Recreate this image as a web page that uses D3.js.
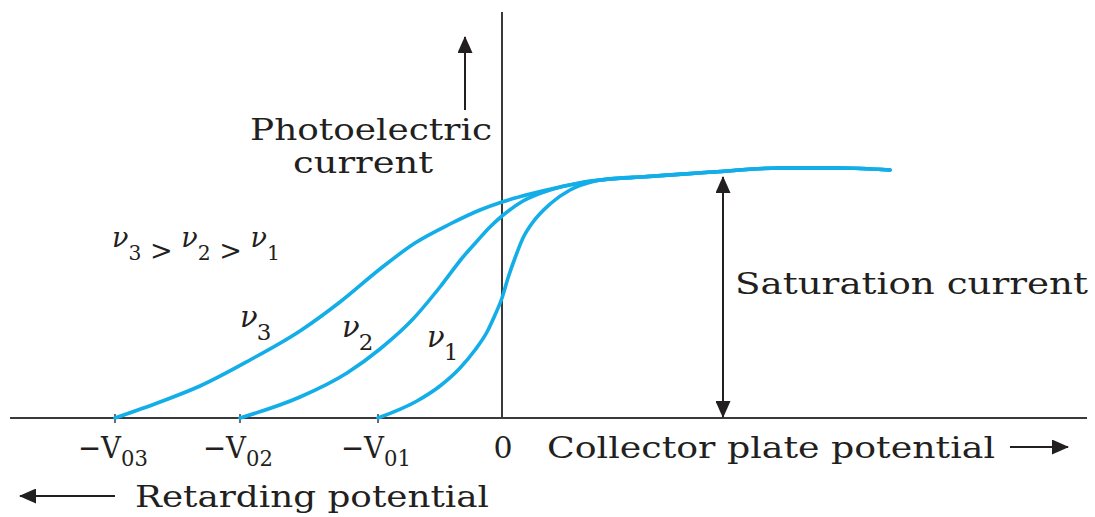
<!DOCTYPE html>
<html>
<head>
<meta charset="utf-8">
<script src="https://cdn.jsdelivr.net/npm/d3@7"></script>
<style>
  body { margin: 0; background: #fff; }
  text { font-family: "DejaVu Serif", serif; fill: #231f20; }
</style>
</head>
<body>
<div id="chart"></div>
<script>
// stopping potentials (arbitrary units) and their subscripts
const stopPotential = [-3.87, -2.62, -1.24];
const stopLabels = ["03", "02", "01"];

// nu3 curve (potential, current), current normalised to saturation = 1
const nu3V = [-3.87, -3.42, -3.02, -2.52, -2.02, -1.62, -1.22, -0.87, -0.52, -0.22, 0, 0.28, 0.58, 0.88];
const nu3I = [0, 0.064, 0.128, 0.232, 0.348, 0.464, 0.596, 0.70, 0.776, 0.832, 0.864, 0.896, 0.924, 0.948];

// nu2 curve
const nu2V = [-2.62, -2.02, -1.55, -1.22, -0.89, -0.62, -0.39, -0.24, -0.12, 0, 0.21, 0.48, 0.78, 1.08];
const nu2I = [0, 0.084, 0.18, 0.276, 0.396, 0.524, 0.644, 0.712, 0.764, 0.808, 0.868, 0.912, 0.94, 0.956];

// nu1 curve
const nu1V = [-1.24, -0.85, -0.62, -0.42, -0.27, -0.15, -0.07, 0, 0.06, 0.13, 0.21, 0.31, 0.48, 0.68, 0.93, 1.18];
const nu1I = [0, 0.068, 0.128, 0.2, 0.272, 0.344, 0.412, 0.48, 0.56, 0.64, 0.72, 0.784, 0.856, 0.912, 0.948, 0.96];

// common saturation part shared by all three curves
const satV = [1.38, 2.11, 2.78, 3.38, 3.88];
const satI = [0.964, 0.984, 1.0, 1.0, 0.992];

const curveNames = ["3", "2", "1"];

var width = 1095, height = 517;

var svg = d3.select("#chart")
  .append("svg")
    .attr("width", width)
    .attr("height", height);

// scales: 0 V sits on the vertical axis
const x = d3.scaleLinear().domain([-4.92, 5.85]).range([10, 1087]);
const y = d3.scaleLinear().domain([0, 1.624]).range([418, 12]);

var ink = "#231f20", axisCol = "#3a3a3a", blue = "#13aee8";

// arrow head marker
svg.append("defs").append("marker")
    .attr("id", "head")
    .attr("viewBox", "0 0 17 15")
    .attr("refX", 16)
    .attr("refY", 7.5)
    .attr("markerWidth", 17)
    .attr("markerHeight", 15)
    .attr("markerUnits", "userSpaceOnUse")
    .attr("orient", "auto-start-reverse")
  .append("path")
    .attr("d", "M0,0 L17,7.5 L0,15 Z")
    .attr("fill", ink);

// axes
svg.append("line")
    .attr("x1", x.range()[0]).attr("x2", x.range()[1])
    .attr("y1", y(0)).attr("y2", y(0))
    .style("stroke", axisCol).style("stroke-width", 2);
svg.append("line")
    .attr("x1", x(0)).attr("x2", x(0))
    .attr("y1", y(0)).attr("y2", y.range()[1])
    .style("stroke", axisCol).style("stroke-width", 2);

// small ticks at the stopping potentials
svg.selectAll(".stop-tick")
  .data(stopPotential)
  .enter().append("line")
    .attr("class", "stop-tick")
    .attr("x1", d => x(d)).attr("x2", d => x(d))
    .attr("y1", y(0) - 4).attr("y2", y(0) + 5)
    .style("stroke", axisCol).style("stroke-width", 1.5);

// tick labels -V0n
svg.selectAll(".stop-label")
  .data(stopPotential)
  .enter().append("text")
    .attr("class", "stop-label")
    .attr("x", d => x(d) - 2)
    .attr("y", 458)
    .attr("text-anchor", "middle")
    .attr("textLength", 70)
    .attr("lengthAdjust", "spacingAndGlyphs")
    .style("font-size", "30px")
    .each(function (d, i) {
      const t = d3.select(this);
      t.append("tspan").text("\u2212V");
      t.append("tspan").attr("dy", 8).style("font-size", "23px").text(stopLabels[i]);
    });

svg.append("text")
    .attr("x", x(0) + 1).attr("y", 458)
    .attr("text-anchor", "middle")
    .style("font-size", "30px")
    .text("0");

// the photocurrent curves
const line = d3.line()
    .x(d => x(d[0]))
    .y(d => y(d[1]))
    .curve(d3.curveMonotoneX);

function pairs(vs, is) {
  return vs.map((v, i) => [v, is[i]]).concat(satV.map((v, i) => [v, satI[i]]));
}
const curves = [pairs(nu3V, nu3I), pairs(nu2V, nu2I), pairs(nu1V, nu1I)];

svg.selectAll(".curve")
  .data(curves)
  .enter().append("path")
    .attr("class", "curve")
    .attr("d", line)
    .attr("fill", "none")
    .style("stroke", blue)
    .style("stroke-width", 3.6)
    .style("stroke-linecap", "round");

// plain text labels
function label(str, px, py, size, len) {
  svg.append("text")
      .attr("x", px).attr("y", py)
      .attr("textLength", len)
      .attr("lengthAdjust", "spacingAndGlyphs")
      .style("font-size", size + "px")
      .text(str);
}
label("Photoelectric", 250, 140, 30, 242);
label("current", 293, 173, 30, 140);
label("Saturation current", 735, 294, 30, 353);
label("Collector plate potential", 547, 458, 30, 448);
label("Retarding potential", 135, 507, 30, 354);

// nu labels on the curves
function nuLabel(sub, px, py) {
  const t = svg.append("text").attr("x", px).attr("y", py).style("font-size", "29px");
  t.append("tspan").style("font-style", "italic").text("\u03bd");
  t.append("tspan").attr("dy", 13).attr("dx", -1).style("font-size", "23px").text(sub);
}
nuLabel(curveNames[0], 240, 327);
nuLabel(curveNames[1], 342, 337);
nuLabel(curveNames[2], 427, 347);

// nu3 > nu2 > nu1
var order = svg.append("text")
    .attr("x", 112).attr("y", 247)
    .attr("textLength", 168)
    .attr("lengthAdjust", "spacingAndGlyphs")
    .style("font-size", "28px");
curveNames.forEach((n, i) => {
  order.append("tspan").attr("dy", i === 0 ? 0 : -13).style("font-style", "italic").text("\u03bd");
  order.append("tspan").attr("dy", 13).style("font-size", "21px").text(n);
  if (i < 2) order.append("tspan").attr("dy", 0).text(" > ");
});

// arrows
function arrow(x1, y1, x2, y2, both) {
  const a = svg.append("line")
      .attr("x1", x1).attr("y1", y1).attr("x2", x2).attr("y2", y2)
      .style("stroke", ink).style("stroke-width", 2)
      .attr("marker-end", "url(#head)");
  if (both) a.attr("marker-start", "url(#head)");
}
arrow(465, 110, 465, 37, false);
arrow(x(2.21), y(0.964), x(2.21), y(0) - 1, true);
arrow(1010, 447, 1068, 447, false);
arrow(115, 496, 20, 496, false);
</script>
</body>
</html>
